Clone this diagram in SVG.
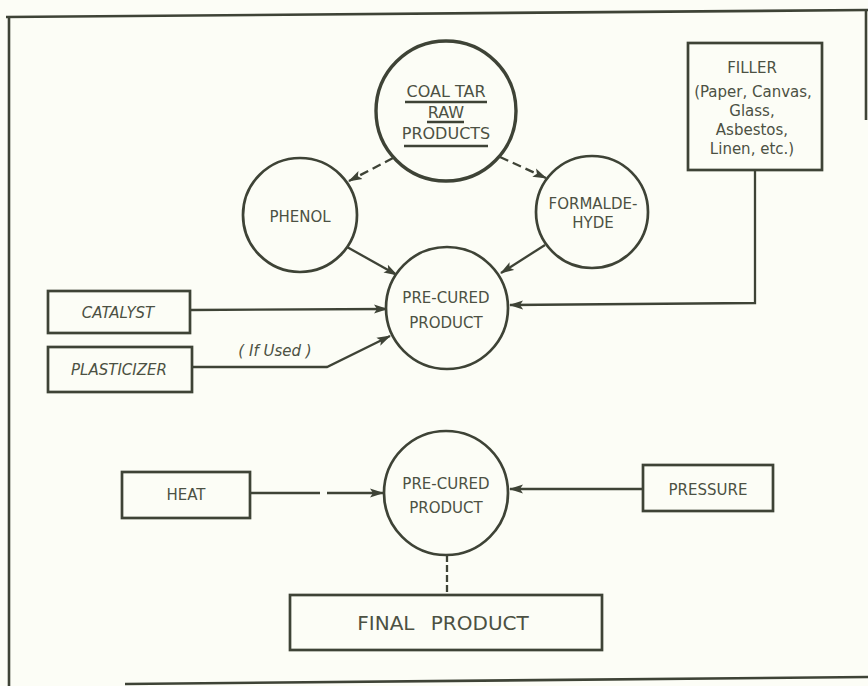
<svg xmlns="http://www.w3.org/2000/svg" width="868" height="686" viewBox="0 0 868 686">
<style>
.bg{fill:#fcfdf6}
.ln{fill:none;stroke:#3e4336;stroke-width:2.3}
.nd{fill:#fcfdf6;stroke:#3e4336;stroke-width:2.7}
.t{font-family:"DejaVu Sans","Liberation Sans",sans-serif;fill:#4c5143;text-anchor:middle;font-size:15px}
.ti{font-style:italic}
.big{font-size:16px}
.fin{font-size:20px;word-spacing:10px}
.dash{stroke-dasharray:9 5}
</style>
<defs>
<marker id="ah" viewBox="0 0 14 10" refX="13" refY="5" markerWidth="14" markerHeight="10" markerUnits="userSpaceOnUse" orient="auto">
<path d="M0,0.5 L14,5 L0,9.5 L3,5 Z" fill="#3e4336"/>
</marker>
</defs>
<rect class="bg" x="0" y="0" width="868" height="686"/>
<g id="frame" class="ln" style="stroke-width:2.6">
<line x1="6" y1="17" x2="868" y2="10"/>
<line x1="9" y1="17" x2="9" y2="686"/>
<line x1="125" y1="684" x2="868" y2="677"/>
<line x1="866" y1="10" x2="866" y2="120"/>
</g>
<g id="connectors" class="ln">
<line class="dash" x1="393" y1="158" x2="349" y2="181" marker-end="url(#ah)"/>
<line class="dash" x1="500" y1="157" x2="546" y2="178" marker-end="url(#ah)"/>
<line x1="347" y1="247" x2="397" y2="275" marker-end="url(#ah)"/>
<line x1="545" y1="245" x2="501" y2="273" marker-end="url(#ah)"/>
<line x1="190" y1="310" x2="387" y2="309" marker-end="url(#ah)"/>
<polyline points="755,170 755,303 510,305" marker-end="url(#ah)"/>
<polyline points="192,367 327,367 390,336" marker-end="url(#ah)"/>
<line x1="250" y1="493" x2="320" y2="493"/>
<line x1="327" y1="493" x2="383" y2="493" marker-end="url(#ah)"/>
<line x1="643" y1="489" x2="510" y2="489" marker-end="url(#ah)"/>
<line x1="447" y1="555" x2="447" y2="595" style="stroke-dasharray:7 3"/>
</g>
<g id="coal-tar">
<circle class="nd" cx="446" cy="111" r="70" style="stroke-width:3.4"/>
<text class="t big" x="446" y="97">COAL TAR</text>
<line class="ln" x1="405" y1="102" x2="487" y2="102"/>
<text class="t big" x="446" y="118">RAW</text>
<line class="ln" x1="427" y1="122" x2="464" y2="122"/>
<text class="t big" x="446" y="139">PRODUCTS</text>
<line class="ln" x1="404" y1="146" x2="488" y2="146"/>
</g>
<g id="phenol">
<circle class="nd" cx="300" cy="215" r="57"/>
<text class="t" x="300" y="222">PHENOL</text>
</g>
<g id="formaldehyde">
<circle class="nd" cx="592" cy="212" r="56"/>
<text class="t" x="593" y="209">FORMALDE-</text>
<text class="t" x="593" y="228">HYDE</text>
</g>
<g id="filler">
<rect class="nd" x="688" y="43" width="134" height="127"/>
<text class="t" x="752" y="73">FILLER</text>
<text class="t" x="753" y="97">(Paper, Canvas,</text>
<text class="t" x="752" y="116">Glass,</text>
<text class="t" x="752" y="135">Asbestos,</text>
<text class="t" x="752" y="154">Linen, etc.)</text>
</g>
<g id="pre-cured-1">
<circle class="nd" cx="447" cy="308" r="61"/>
<text class="t" x="446" y="303">PRE-CURED</text>
<text class="t" x="446" y="328">PRODUCT</text>
</g>
<g id="catalyst">
<rect class="nd" x="48" y="291" width="142" height="42"/>
<text class="t ti" x="118" y="318">CATALYST</text>
</g>
<g id="plasticizer">
<rect class="nd" x="48" y="347" width="144" height="45"/>
<text class="t ti" x="119" y="375">PLASTICIZER</text>
</g>
<text class="t ti" x="275" y="356">( If Used )</text>
<g id="heat">
<rect class="nd" x="122" y="472" width="128" height="46"/>
<text class="t" x="186" y="500">HEAT</text>
</g>
<g id="pre-cured-2">
<circle class="nd" cx="446" cy="493" r="62"/>
<text class="t" x="446" y="489">PRE-CURED</text>
<text class="t" x="446" y="513">PRODUCT</text>
</g>
<g id="pressure">
<rect class="nd" x="643" y="465" width="130" height="46"/>
<text class="t" x="708" y="495">PRESSURE</text>
</g>
<g id="final-product">
<rect class="nd" x="290" y="595" width="312" height="55"/>
<text class="t fin" x="443" y="630">FINAL PRODUCT</text>
</g>
</svg>
